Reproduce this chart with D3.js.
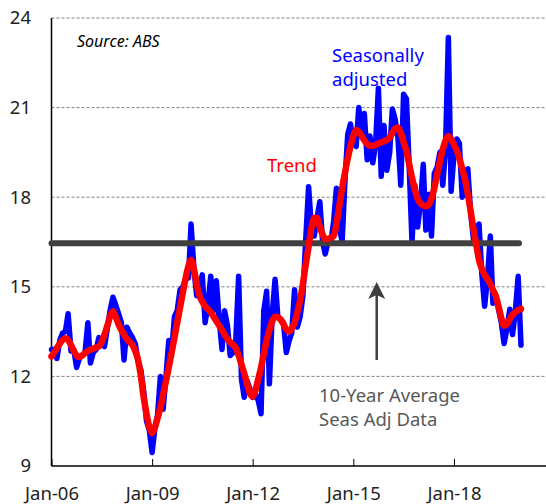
<!DOCTYPE html>
<meta charset="utf-8">
<style>
body { margin: 0; background: #fff; }
svg { display: block; font-family: "Noto Sans", sans-serif; }
.grid line { stroke: #808080; stroke-width: 1px; stroke-dasharray: 3,2; }
.axis path, .axis line { stroke: #000; }
.axis text { font-size: 18.5px; fill: #222; font-family: "Noto Sans", sans-serif; }
</style>
<body>
<svg width="546" height="504"></svg>
<script src="https://cdn.jsdelivr.net/npm/d3@7"></script>
<script>

// monthly, Jan-06 .. Jan-20
var seasAdj = [
  12.9, 12.9, 12.6, 13.2, 13.45, 13.5, 14.1, 12.85, 12.9, 12.3, 12.6, 12.7,
  12.8, 13.8, 12.45, 12.8, 12.9, 13.3, 13.1, 13.0, 13.6, 14.2, 14.65, 14.4,
  14.1, 13.8, 12.55, 13.65, 13.45, 13.3, 13.1, 12.5, 12.2, 11.5, 10.5, 10.2,
  9.45, 10.3, 10.7, 12.0, 10.9, 12.0, 13.2, 12.8, 14.0, 14.2, 14.9, 15.0,
  15.25, 15.3, 17.1, 15.6, 14.7, 15.0, 15.4, 13.8, 14.4, 15.35, 14.2, 15.2,
  13.9, 12.9, 14.2, 13.7, 12.7, 12.8, 13.2, 15.35, 11.9, 11.3, 11.85, 11.6,
  11.3, 11.4, 11.2, 10.75, 14.2, 14.85, 11.75, 14.1, 15.25, 14.0, 13.9, 13.8,
  12.8, 13.2, 13.45, 14.9, 13.65, 14.0, 14.7, 16.6, 18.35, 17.0, 16.7, 17.3,
  17.85, 16.5, 16.1, 16.5, 16.5, 17.2, 18.3, 17.0, 16.5, 18.5, 20.1, 20.45,
  19.8, 19.7, 21.0, 20.15, 20.8, 19.25, 20.05, 19.15, 19.8, 21.65, 18.7, 20.4,
  18.9, 19.5, 20.95, 20.6, 20.0, 18.4, 21.45, 21.3, 19.0, 16.5, 18.4, 17.0,
  17.8, 19.1, 16.9, 18.1, 16.7, 18.8, 19.0, 19.5, 18.4, 19.6, 23.35, 18.2,
  19.4, 19.95, 19.8, 18.0, 18.9, 18.95, 17.5, 16.6, 17.0, 17.1, 15.4, 14.35,
  15.3, 16.7, 14.45, 14.7, 14.25, 13.8, 13.1, 13.6, 14.25, 13.4, 14.2, 15.35,
  13.05
];

var trend = [
  12.67, 12.8, 12.95, 13.1, 13.22, 13.28, 13.22, 13.05, 12.85, 12.7, 12.65, 12.7,
  12.78, 12.85, 12.89, 12.93, 12.97, 13.0, 13.15, 13.4, 13.7, 14.0, 14.18, 14.0,
  13.75, 13.55, 13.4, 13.25, 13.15, 13.05, 12.85, 12.55, 12.0, 11.3, 10.75, 10.3,
  10.1, 10.3, 10.6, 10.95, 11.4, 11.85, 12.3, 12.8, 13.3, 13.8, 14.3, 14.8,
  15.3, 15.7, 15.9, 15.6, 15.1, 14.7, 14.5, 14.35, 14.25, 14.15, 14.0, 13.85,
  13.7, 13.55, 13.4, 13.25, 13.15, 13.05, 12.95, 12.7, 12.4, 12.1, 11.75, 11.45,
  11.33, 11.55, 11.9, 12.3, 12.75, 13.2, 13.56, 13.85, 14.0, 13.98, 13.9, 13.75,
  13.58, 13.5, 13.6, 13.8, 14.15, 14.55, 15.1, 15.75, 16.35, 16.95, 17.3, 17.3,
  17.0, 16.75, 16.6, 16.6, 16.65, 16.7, 17.1, 17.7, 18.3, 18.8, 19.3, 19.7,
  20.05, 20.25, 20.2, 20.05, 19.9, 19.78, 19.72, 19.72, 19.75, 19.8, 19.83, 19.87,
  19.92, 20.0, 20.15, 20.3, 20.33, 20.15, 19.85, 19.55, 19.1, 18.65, 18.25, 17.95,
  17.8, 17.72, 17.7, 17.75, 17.95, 18.3, 18.75, 19.2, 19.6, 19.9, 20.05, 19.95,
  19.75, 19.55, 19.3, 18.95, 18.6, 18.1, 17.55, 16.95, 16.4, 15.9, 15.6, 15.4,
  15.25, 15.1, 14.9, 14.7, 14.35, 13.95, 13.7, 13.75, 13.92, 14.07, 14.15, 14.22,
  14.26
];

var tenYearAvg = 16.46;
var yTicks = [9, 12, 15, 18, 21, 24];
var xTickLabels = ["Jan-06", "Jan-09", "Jan-12", "Jan-15", "Jan-18"];

var svg = d3.select("svg");

var parseLbl = d3.timeParse("%b-%y");
var dates = seasAdj.map(function(d, i) { return new Date(2006, i, 1); });

var x = d3.scaleTime()
    .domain([new Date(2006, 0, 1), new Date(2021, 0, 1)])
    .range([51.5, 554.6]);

var y = d3.scaleLinear()
    .domain([9, 24])
    .range([466, 18]);

// dashed gridlines
svg.append("g")
    .attr("class", "grid")
  .selectAll("line")
    .data(yTicks.slice(1))
  .enter().append("line")
    .attr("x1", 51.5)
    .attr("x2", 546)
    .attr("y1", function(d) { return y(d); })
    .attr("y2", function(d) { return y(d); });

// y labels
svg.append("g")
    .attr("class", "axis")
  .selectAll("text")
    .data(yTicks)
  .enter().append("text")
    .attr("x", 31)
    .attr("y", function(d) { return y(d); })
    .attr("dy", "0.35em")
    .attr("text-anchor", "end")
    .text(function(d) { return d; });

// x axis with inside ticks
var xAxis = d3.axisBottom(x)
    .tickValues(xTickLabels.map(parseLbl))
    .tickFormat(d3.timeFormat("%b-%y"))
    .tickSizeInner(-7)
    .tickSizeOuter(0);

var gx = svg.append("g")
    .attr("class", "axis")
    .attr("transform", "translate(0,466)")
    .call(xAxis);
gx.select(".domain").remove();
gx.selectAll("text").attr("dy", null).attr("y", 34);
gx.selectAll("line").attr("stroke-width", 1);

svg.append("line")
    .attr("x1", 51.5).attr("x2", 546)
    .attr("y1", 466).attr("y2", 466)
    .attr("stroke", "#000").attr("stroke-width", 1.5);

svg.append("line")
    .attr("x1", 51.5).attr("x2", 51.5)
    .attr("y1", 18).attr("y2", 466)
    .attr("stroke", "#000").attr("stroke-width", 1.5);

var line = d3.line()
    .x(function(d, i) { return x(dates[i]); })
    .y(function(d) { return y(d); });

svg.append("path")
    .datum(seasAdj)
    .attr("fill", "none")
    .attr("stroke", "#0000ff")
    .attr("stroke-width", 5.5)
    .attr("stroke-linejoin", "round")
    .attr("stroke-linecap", "round")
    .attr("d", line);

// 10-year average line
svg.append("line")
    .attr("x1", x(dates[0]))
    .attr("x2", x(dates[dates.length - 1]) - 2)
    .attr("y1", y(tenYearAvg))
    .attr("y2", y(tenYearAvg))
    .attr("stroke", "#404040")
    .attr("stroke-width", 6)
    .attr("stroke-linecap", "round");

svg.append("path")
    .datum(trend)
    .attr("fill", "none")
    .attr("stroke", "#ff0000")
    .attr("stroke-width", 6.5)
    .attr("stroke-linejoin", "round")
    .attr("stroke-linecap", "round")
    .attr("d", line.curve(d3.curveMonotoneX));

// arrow pointing at the average line
var ax = 376.7;
svg.append("line")
    .attr("x1", ax).attr("x2", ax)
    .attr("y1", 360).attr("y2", 292)
    .attr("stroke", "#404040")
    .attr("stroke-width", 2.5);
svg.append("path")
    .attr("d", "M" + ax + ",282 L" + (ax - 8.5) + ",299 L" + ax + ",295 L" + (ax + 8.5) + ",299 Z")
    .attr("fill", "#404040");

// annotations
svg.append("text")
    .attr("x", 77).attr("y", 47)
    .attr("font-size", 16)
    .attr("font-style", "italic")
    .attr("fill", "#000")
    .text("Source: ABS");

svg.append("text")
    .attr("x", 332).attr("y", 62)
    .attr("font-size", 18.5)
    .attr("fill", "#0000ff")
    .text("Seasonally");
svg.append("text")
    .attr("x", 332).attr("y", 86)
    .attr("font-size", 18.5)
    .attr("fill", "#0000ff")
    .text("adjusted");

svg.append("text")
    .attr("x", 267).attr("y", 172)
    .attr("font-size", 18.5)
    .attr("fill", "#ff0000")
    .text("Trend");

svg.append("text")
    .attr("x", 319).attr("y", 402)
    .attr("font-size", 18.5)
    .attr("fill", "#595959")
    .text("10-Year Average");
svg.append("text")
    .attr("x", 319).attr("y", 426)
    .attr("font-size", 18.5)
    .attr("fill", "#595959")
    .text("Seas Adj Data");

</script>
